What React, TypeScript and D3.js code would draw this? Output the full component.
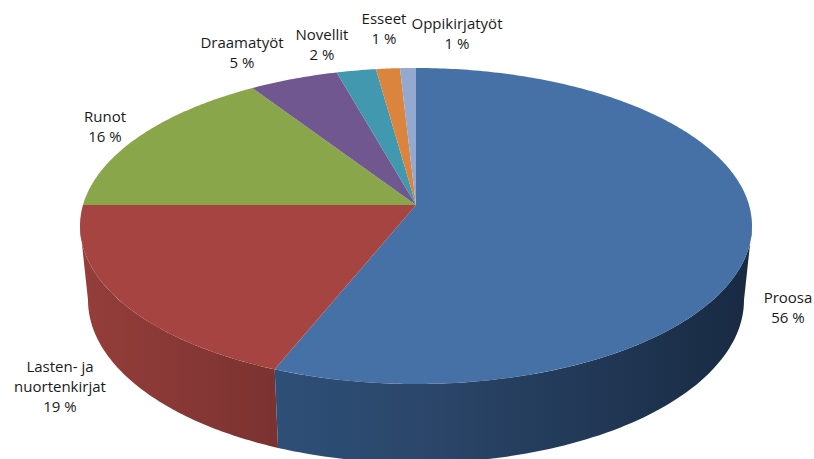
import React from "react";
import * as d3 from "d3";

const categories = ["Proosa", "Lasten- ja nuortenkirjat", "Runot", "Draamatyöt", "Novellit", "Esseet", "Oppikirjatyöt"];
const values = [56.7, 18.3, 16.4, 4.6, 2.0, 1.2, 0.8];
const percentLabels = ["56 %", "19 %", "16 %", "5 %", "2 %", "1 %", "1 %"];
const colors = ["#4671a6", "#a64441", "#8aa64b", "#71578f", "#4198af", "#db843d", "#93a9cf"];
const labelLines = [["Proosa"], ["Lasten- ja", "nuortenkirjat"], ["Runot"], ["Draamatyöt"], ["Novellit"], ["Esseet"], ["Oppikirjatyöt"]];
const labelPos: [number, number][] = [[788, 303], [60, 372], [105, 122], [242, 48], [322, 40], [384, 24], [457, 29]];

const W = 814, H = 459;
const apex = { x: 416, y: 205 };
const top = { cx: 416, cy: 226, rx: 336, ry: 158 };
const bottom = { cx: 416, cy: 300, rx: 328, ry: 163 };
const backRy = 144, frontRy = 175;

function rim(a: number): [number, number] {
  const c = Math.cos(a);
  const dx = Math.sin(a) * top.rx;
  const dy = -c * (c > 0 ? backRy : frontRy);
  const ox = (apex.x - top.cx) / top.rx, oy = (apex.y - top.cy) / top.ry;
  const ex = dx / top.rx, ey = dy / top.ry;
  const A = ex * ex + ey * ey, B = 2 * (ox * ex + oy * ey), C = ox * ox + oy * oy - 1;
  const s = (-B + Math.sqrt(B * B - 4 * A * C)) / (2 * A);
  return [apex.x + s * dx, apex.y + s * dy];
}

const line = d3.line<[number, number]>().x(d => d[0]).y(d => d[1]);
const pie = d3.pie<number>().sort(null).startAngle(0).endAngle(2 * Math.PI);
const arcs = pie(values);

function topPath(a0: number, a1: number) {
  const n = Math.max(4, Math.ceil((a1 - a0) * 80));
  const pts: [number, number][] = [[apex.x, apex.y]];
  d3.range(n + 1).forEach(i => pts.push(rim(a0 + ((a1 - a0) * i) / n)));
  return line(pts) + "Z";
}

function sidePath(t0: number, t1: number) {
  const n = 80;
  const ts = d3.range(n + 1).map(i => t0 + ((t1 - t0) * i) / n);
  const pts: [number, number][] = ts.map(t => [top.cx + top.rx * Math.cos(t), top.cy + top.ry * Math.sin(t)]);
  ts.slice().reverse().forEach(t => pts.push([bottom.cx + bottom.rx * Math.cos(t), bottom.cy + bottom.ry * Math.sin(t)]));
  return line(pts) + "Z";
}

const split = rim(arcs[0].endAngle);
const tSplit = Math.atan2((split[1] - top.cy) / top.ry, (split[0] - top.cx) / top.rx);

export default function App() {
  return (
    <svg width={W} height={H} viewBox={`0 0 ${W} ${H}`} style={{ position: "absolute", left: 0, top: 0, background: "#fff" }}>
      <defs>
        <linearGradient id="blueSide" gradientUnits="userSpaceOnUse" x1={276} x2={752} y1={0} y2={0}>
          <stop offset="0" stopColor="#2e4f77" />
          <stop offset="0.35" stopColor="#2a4568" />
          <stop offset="1" stopColor="#182a42" />
        </linearGradient>
        <linearGradient id="redSide" gradientUnits="userSpaceOnUse" x1={80} x2={280} y1={0} y2={0}>
          <stop offset="0" stopColor="#953e3b" />
          <stop offset="1" stopColor="#7a3230" />
        </linearGradient>
      </defs>
      <path d={sidePath(tSplit, Math.PI)} fill="url(#redSide)" />
      <path d={sidePath(0, tSplit)} fill="url(#blueSide)" />
      {arcs.map((d, i) => (
        <path key={categories[i]} d={topPath(d.startAngle, d.endAngle)} fill={colors[i]} />
      ))}
      <g fontFamily="'Open Sans', sans-serif" fontSize={15} fill="#1a1a1a" textAnchor="middle">
        {categories.map((c, i) => (
          <text key={c} x={labelPos[i][0]} y={labelPos[i][1]}>
            {labelLines[i].map((l, j) => (
              <tspan key={j} x={labelPos[i][0]} dy={j === 0 ? 0 : 20}>{l}</tspan>
            ))}
            <tspan x={labelPos[i][0]} dy={20}>{percentLabels[i]}</tspan>
          </text>
        ))}
      </g>
    </svg>
  );
}
